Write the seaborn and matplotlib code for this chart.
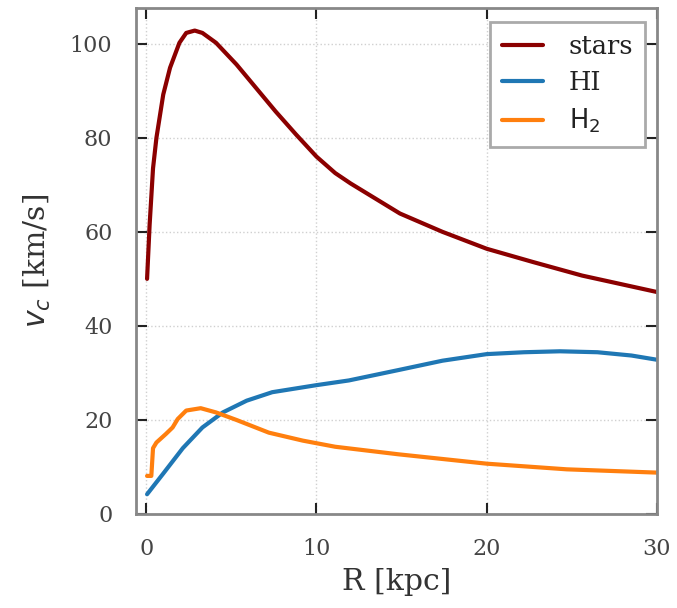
import numpy as np
import pandas as pd
import matplotlib
matplotlib.use("Agg")
import matplotlib.pyplot as plt
import seaborn as sns

R_stars = [0.05, 0.2, 0.4, 0.6, 1.0, 1.4, 1.95, 2.35, 2.85, 3.3, 4.1, 5.3, 6.45, 7.6, 8.8, 10.0, 11.1, 12.0, 14.9, 17.4, 20.0, 22.7, 25.6, 30.0]
v_stars = [50.0, 61.5, 73.5, 80.0, 89.2, 94.9, 100.2, 102.3, 102.8, 102.3, 100.2, 95.6, 90.6, 85.6, 80.7, 76.0, 72.5, 70.3, 63.9, 60.0, 56.4, 53.6, 50.7, 47.2]

R_HI = [0.05, 1.0, 2.15, 3.3, 4.5, 5.9, 7.4, 10.0, 11.9, 14.8, 17.4, 20.0, 22.2, 24.3, 26.5, 28.5, 30.0]
v_HI = [4.2, 8.6, 14.0, 18.4, 21.6, 24.1, 25.9, 27.4, 28.4, 30.6, 32.6, 34.0, 34.4, 34.6, 34.4, 33.7, 32.8]

R_H2 = [0.05, 0.3, 0.4, 0.6, 1.15, 1.55, 1.85, 2.35, 3.2, 4.1, 5.3, 7.2, 9.2, 11.1, 14.8, 20.0, 24.7, 30.0]
v_H2 = [8.1, 8.1, 14.0, 15.2, 17.0, 18.4, 20.2, 22.0, 22.5, 21.6, 20.0, 17.3, 15.6, 14.3, 12.7, 10.7, 9.5, 8.8]

labels = ["stars", "HI", r"$\mathrm{H_2}$"]
colors = ["#8b0000", "#1f77b4", "#ff7f0e"]

df = pd.concat([
    pd.DataFrame({"R": R_stars, "v": v_stars, "comp": labels[0]}),
    pd.DataFrame({"R": R_HI, "v": v_HI, "comp": labels[1]}),
    pd.DataFrame({"R": R_H2, "v": v_H2, "comp": labels[2]}),
])

sns.set_theme(style="ticks")
plt.rcParams["font.family"] = ["DejaVu Serif"]
plt.rcParams["mathtext.fontset"] = "dejavusans"

fig = plt.figure(figsize=(6.77, 6.08), dpi=100)
ax = fig.add_axes([136/677, 1 - 514/608, (657-136)/677, (514-8)/608])

sns.lineplot(data=df, x="R", y="v", hue="comp", palette=dict(zip(labels, colors)),
             linewidth=3, ax=ax, sort=False, estimator=None)

ax.set_xlim(-0.6, 30)
ax.set_ylim(0, 107.6)
ax.set_xticks([0, 10, 20, 30])
ax.set_yticks([0, 20, 40, 60, 80, 100])
ax.grid(True, linestyle=":", color="#d0d0d0", linewidth=1)
ax.tick_params(direction="in", length=8, width=1.5, color="#222222", top=True, right=True,
               labelsize=16, labelcolor="#444444", pad=17)
for s in ax.spines.values():
    s.set_color("#888888")
    s.set_linewidth(2)

ax.set_xlabel("R [kpc]", fontsize=21.5, color="#333333", labelpad=6)
ax.set_ylabel(r"$v_c$ [km/s]", fontsize=21.5, color="#333333", labelpad=12)

leg = ax.legend(loc="upper right", fontsize=18.5, frameon=True, fancybox=False,
                edgecolor="#aaaaaa", framealpha=1, borderpad=0.45, handlelength=1.6,
                labelspacing=0.45, handletextpad=1.0, borderaxespad=0,
                bbox_to_anchor=(0.977, 0.972))
leg.get_frame().set_linewidth(2)
for t in leg.get_texts():
    t.set_color("#222222")

fig.savefig("out.png", dpi=100)
